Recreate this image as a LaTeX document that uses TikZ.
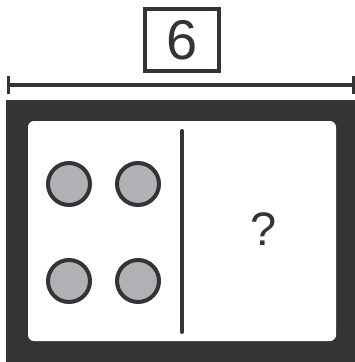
\documentclass[tikz,border=0pt]{standalone}
\usepackage{fontspec}
\setmainfont{Liberation Sans}
\definecolor{ink}{HTML}{353334}
\definecolor{dotgray}{HTML}{B0B1B4}
\begin{document}
\begin{tikzpicture}[x=1pt,y=-1pt,
    dot/.style={circle, draw=ink, fill=dotgray, line width=4pt, minimum size=42pt, inner sep=0pt},
    valbox/.style={draw=ink, line width=4pt, minimum width=74pt, minimum height=62pt, inner sep=0pt, text=ink, font=\fontsize{56}{60}\selectfont}]
\useasboundingbox (0,0) rectangle (355,362);
\begin{scope}[]

    \node[valbox] (total) at (182,40) {6};
    \coordinate (dimL) at (8,85);
    \coordinate (dimR) at (353.5,85);
    \draw[ink, line width=4pt] (dimL) -- (dimR);
    \draw[ink, line width=3pt] (8,76) -- (8,94);
    \draw[ink, line width=3pt] (353.5,76) -- (353.5,94);
\end{scope}\begin{scope}[]

    \fill[ink] (6,100) rectangle (355,362);
    \fill[white, rounded corners=6pt] (28,121) rectangle (336,341);
    \draw[ink, line width=4pt, line cap=round] (182,131) -- (182,332);
\end{scope}
\node[dot] (d1) at (69,184) {};
\node[dot] (d2) at (138,184) {};
\node[dot] (d3) at (69,281) {};
\node[dot] (d4) at (138,281) {};
\node[text=ink, font=\fontsize{47}{50}\selectfont] (unknown) at (264,229) {?};
\end{tikzpicture}
\end{document}
